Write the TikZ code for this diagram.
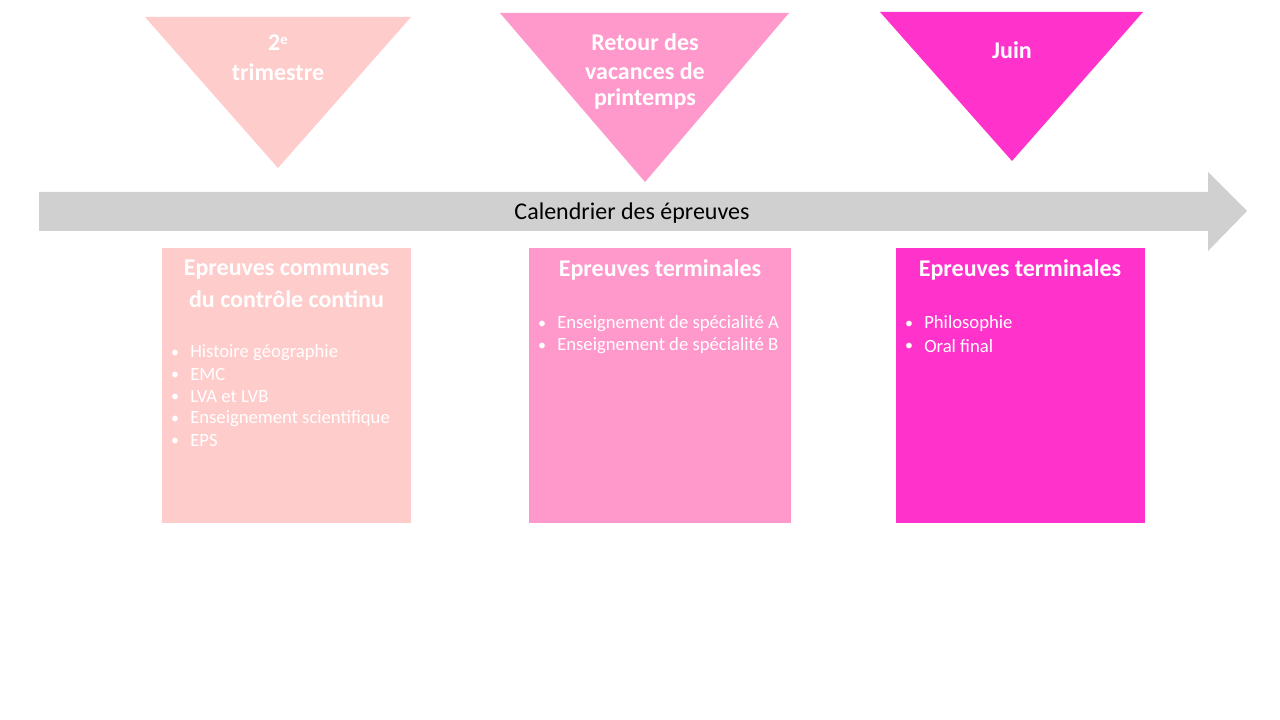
\documentclass[tikz,border=0pt]{standalone}
\usepackage{fontspec}
\setmainfont{Carlito}
\definecolor{pinkA}{HTML}{FFCCCC}
\definecolor{pinkB}{HTML}{FF99CC}
\definecolor{pinkC}{HTML}{FF33CC}
\definecolor{arrowgray}{HTML}{D0D0D0}
\begin{document}
\begin{tikzpicture}[x=0.75pt,y=-0.75pt,
  ttl/.style={text=white,font=\fontsize{18}{22}\selectfont\bfseries,align=center,inner sep=0pt},
  itm/.style={text=white,font=\fontsize{14}{17}\selectfont,anchor=west,inner sep=0pt},
  bul/.style={text=white,font=\fontsize{12}{14}\selectfont,anchor=center,inner sep=0pt}]
\useasboundingbox[fill=white] (0,0) rectangle (1280,720);
% triangles
\fill[pinkA] (145,17) -- (411,17) -- (278,168) -- cycle;
\fill[pinkB] (500,13) -- (789,13) -- (645,182) -- cycle;
\fill[pinkC] (880,12) -- (1143,12) -- (1012,161) -- cycle;
\node[ttl] (t1a) at (278,43) {2\raisebox{0.55ex}{\fontsize{11}{12}\selectfont e}};
\node[ttl] (t1b) at (278,72) {trimestre};
\node[ttl] (t2a) at (645,42) {Retour des};
\node[ttl] (t2b) at (645,71) {vacances de};
\node[ttl] (t2c) at (645,99) {printemps};
\node[ttl] (t3a) at (1012,50) {Juin};
% arrow
\fill[arrowgray] (39,192) -- (1208,192) -- (1208,172) -- (1247,211) -- (1208,251) -- (1208,231) -- (39,231) -- cycle;
\node[font=\fontsize{18}{21}\selectfont,inner sep=0pt] (cal) at (632,213) {Calendrier des épreuves};
% boxes
\fill[pinkA] (162,248) rectangle (411,523);
\fill[pinkB] (529,248) rectangle (791,523);
\fill[pinkC] (896,248) rectangle (1145,523);
% box 1
\node[ttl] (b1a) at (286.5,270) {Epreuves communes};
\node[ttl] (b1b) at (286.5,299) {du contrôle continu};
\foreach \y/\t [count=\i] in {353/Histoire géographie,375/EMC,397/LVA et LVB,419/Enseignement scientifique,441/EPS}{
  \node[bul] (b1u\i) at (175,\y+1) {•};
  \node[itm] (b1i\i) at (190,\y) {\t};
}
% box 2
\node[ttl] (b2a) at (660,270) {Epreuves terminales};
\foreach \y/\t [count=\i] in {324/Enseignement de spécialité A,346/Enseignement de spécialité B}{
  \node[bul] (b2u\i) at (542,\y+1) {•};
  \node[itm] (b2i\i) at (557,\y) {\t};
}
% box 3
\node[ttl] (b3a) at (1020,270) {Epreuves terminales};
\foreach \y/\t [count=\i] in {324/Philosophie,346/Oral final}{
  \node[bul] (b3u\i) at (909,\y+1) {•};
  \node[itm] (b3i\i) at (924,\y) {\t};
}
\end{tikzpicture}
\end{document}
